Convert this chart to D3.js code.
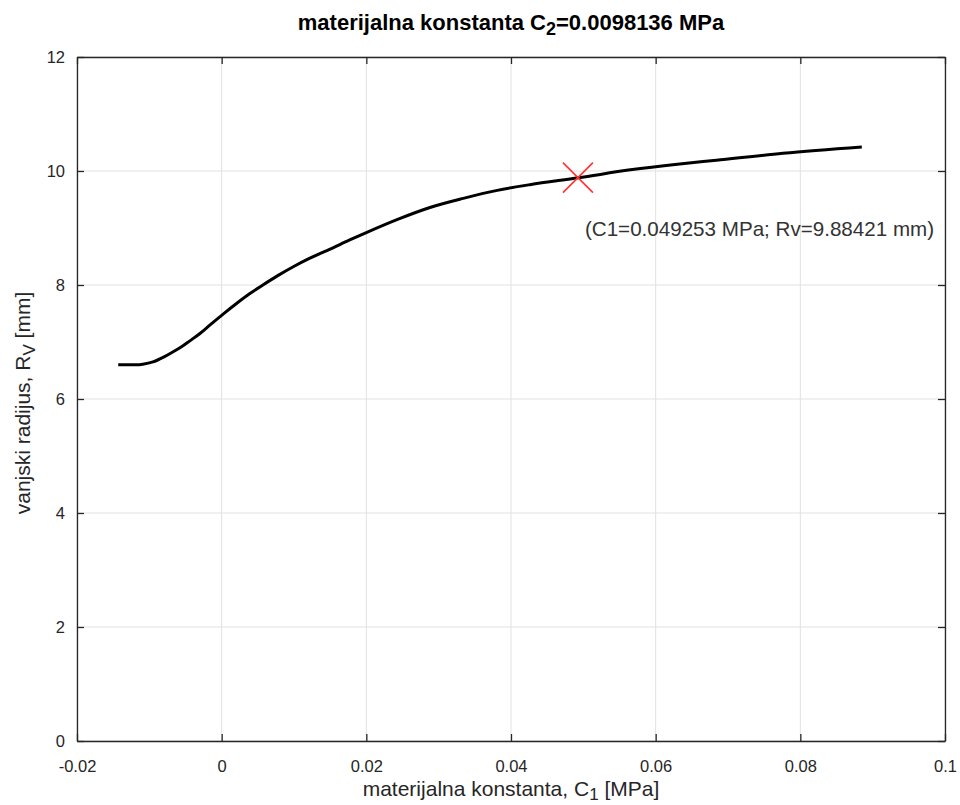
<!DOCTYPE html>
<html>
<head>
<meta charset="utf-8">
<script src="https://cdn.jsdelivr.net/npm/d3@7"></script>
<style>
  html, body { margin: 0; padding: 0; background: #fff; }
  svg { display: block; font-family: "Liberation Sans", Arial, sans-serif; }
</style>
</head>
<body>
<svg id="chart" width="960" height="805"></svg>
<script>
// ---- data ----
const c1Values = [-0.0143, -0.0117, -0.0109, -0.0095, -0.0081, -0.0067, -0.0055, -0.0044, -0.0030, -0.0016,
                  0.0002, 0.0021, 0.0039, 0.0057, 0.0077, 0.0099, 0.0122, 0.0150, 0.0177, 0.0200,
                  0.0245, 0.0288, 0.0334, 0.0381, 0.0426, 0.0493, 0.0565, 0.0630, 0.0684, 0.0776, 0.0885];
const rvValues = [6.60, 6.60, 6.61, 6.65, 6.73, 6.83, 6.92, 7.02, 7.15, 7.30,
                  7.49, 7.68, 7.85, 8.00, 8.16, 8.32, 8.47, 8.63, 8.79, 8.92,
                  9.16, 9.36, 9.52, 9.66, 9.76, 9.88, 10.02, 10.12, 10.19, 10.31, 10.42];
const xTicks = [-0.02, 0, 0.02, 0.04, 0.06, 0.08, 0.1];
const xTickLabels = ["-0.02", "0", "0.02", "0.04", "0.06", "0.08", "0.1"];
const yTicks = [0, 2, 4, 6, 8, 10, 12];
const yTickLabels = ["0", "2", "4", "6", "8", "10", "12"];
const markerC1 = [0.049253];
const markerRv = [9.88421];
const annotationText = "(C1=0.049253 MPa; Rv=9.88421 mm)";

(function () {
// ---- layout ----
const svg = d3.select("#chart");
const pL = 77, pR = 945, pT = 57, pB = 741;
const x = d3.scaleLinear().domain([-0.02, 0.1]).range([pL, pR]);
const y = d3.scaleLinear().domain([0, 12]).range([pB, pT]);
const axisColor = "#262626";
const tickLen = 7;

// grid
const grid = svg.append("g");
grid.selectAll(".gx").data(xTicks).enter().append("line")
  .attr("x1", d => x(d)).attr("x2", d => x(d)).attr("y1", pT).attr("y2", pB)
  .attr("stroke", "#e1e1e1").attr("stroke-width", 1);
grid.selectAll(".gy").data(yTicks).enter().append("line")
  .attr("y1", d => y(d)).attr("y2", d => y(d)).attr("x1", pL).attr("x2", pR)
  .attr("stroke", "#e1e1e1").attr("stroke-width", 1);

// curve
const pts = c1Values.map((c, i) => [c, rvValues[i]]);
svg.append("path").datum(pts)
  .attr("d", d3.line().x(d => x(d[0])).y(d => y(d[1])).curve(d3.curveMonotoneX))
  .attr("fill", "none").attr("stroke", "#000").attr("stroke-width", 3);

// marker
const mg = svg.append("g");
markerC1.forEach((c, i) => {
  const mx = x(c), my = y(markerRv[i]), s = 15;
  mg.append("line").attr("x1", mx - s).attr("y1", my - s).attr("x2", mx + s).attr("y2", my + s)
    .attr("stroke", "#ff3333").attr("stroke-width", 1.6);
  mg.append("line").attr("x1", mx - s).attr("y1", my + s).attr("x2", mx + s).attr("y2", my - s)
    .attr("stroke", "#ff3333").attr("stroke-width", 1.6);
  mg.append("text").attr("x", mx + 7).attr("y", my + 58)
    .attr("font-size", 20.6).attr("fill", "#333").text(annotationText);
});

// axes box
const axG = svg.append("g");
const xAxisB = d3.axisBottom(x).tickValues(xTicks).tickSizeInner(-tickLen).tickSizeOuter(0).tickFormat((d, i) => xTickLabels[i]).tickPadding(19);
const xAxisT = d3.axisTop(x).tickValues(xTicks).tickSizeInner(-tickLen).tickSizeOuter(0).tickFormat("");
const yAxisL = d3.axisLeft(y).tickValues(yTicks).tickSizeInner(-tickLen).tickSizeOuter(0).tickFormat((d, i) => yTickLabels[i]).tickPadding(12);
const yAxisR = d3.axisRight(y).tickValues(yTicks).tickSizeInner(-tickLen).tickSizeOuter(0).tickFormat("");
function style(g) {
  g.selectAll("path").attr("stroke", axisColor).attr("stroke-width", 1.3);
  g.selectAll("line").attr("stroke", axisColor).attr("stroke-width", 1.3);
  g.selectAll("text").attr("fill", axisColor).attr("font-size", 16.5).attr("font-family", "Liberation Sans, Arial, sans-serif");
}
axG.append("g").attr("transform", `translate(0,${pB})`).call(xAxisB).call(style);
axG.append("g").attr("transform", `translate(0,${pT})`).call(xAxisT).call(style);
axG.append("g").attr("transform", `translate(${pL},0)`).call(yAxisL).call(style);
axG.append("g").attr("transform", `translate(${pR},0)`).call(yAxisR).call(style);

// title
const title = svg.append("text").attr("x", (pL + pR) / 2).attr("y", 30)
  .attr("text-anchor", "middle").attr("font-size", 22).attr("font-weight", "bold").attr("fill", "#000");
title.append("tspan").text("materijalna konstanta C");
title.append("tspan").attr("font-size", 18).attr("dy", 5).text("2");
title.append("tspan").attr("dy", -5).text("=0.0098136 MPa");

// x label
const xl = svg.append("text").attr("x", (pL + pR) / 2).attr("y", 796)
  .attr("text-anchor", "middle").attr("font-size", 21).attr("fill", axisColor);
xl.append("tspan").text("materijalna konstanta, C");
xl.append("tspan").attr("font-size", 17).attr("dy", 4).text("1");
xl.append("tspan").attr("dy", -4).text(" [MPa]");

// y label
const yl = svg.append("text").attr("transform", `translate(30,${(pT + pB) / 2 + 4}) rotate(-90)`)
  .attr("text-anchor", "middle").attr("font-size", 21).attr("fill", axisColor);
yl.append("tspan").text("vanjski radijus, R");
yl.append("tspan").attr("font-size", 17).attr("dy", 5).text("V");
yl.append("tspan").attr("dy", -5).text(" [mm]");
})();
</script>
</body>
</html>
